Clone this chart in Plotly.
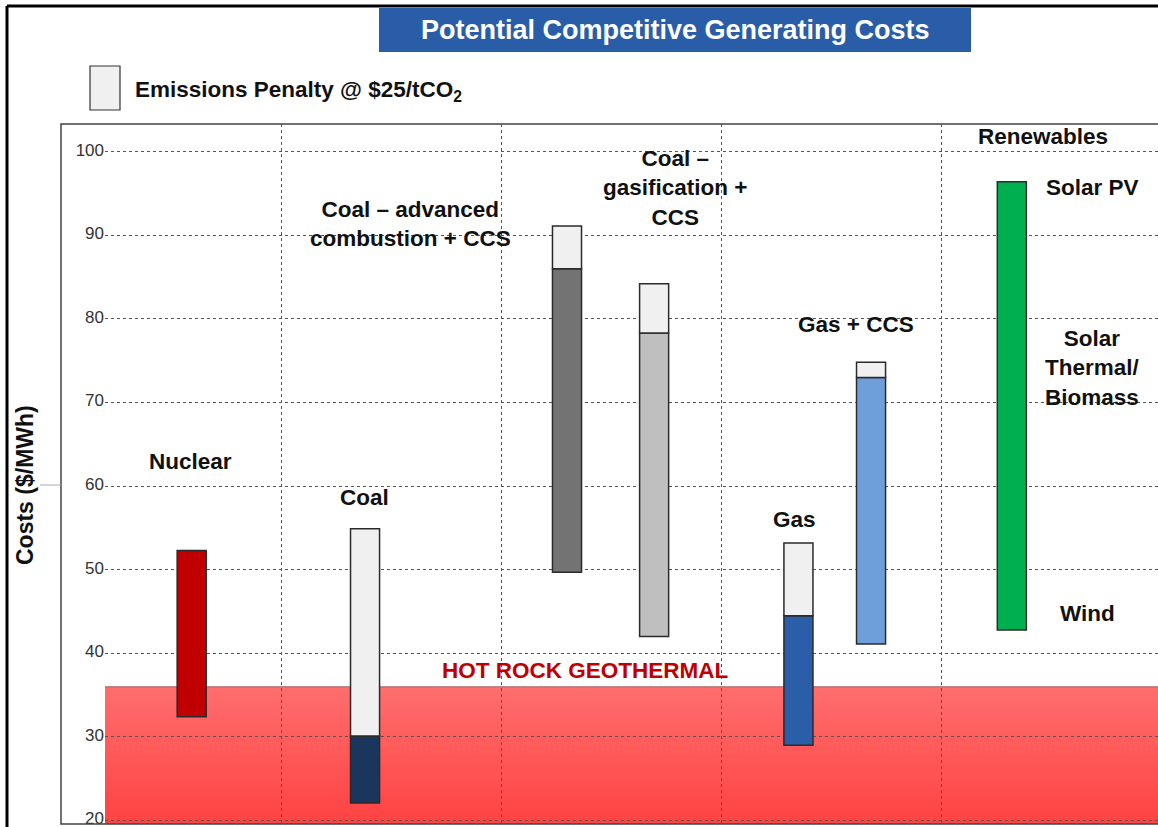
import plotly.graph_objects as go

# ---------------- data ----------------
categories = ["Nuclear", "Coal", "Coal – advanced combustion + CCS",
              "Coal – gasification + CCS", "Gas", "Gas + CCS", "Renewables"]
cost_low = [32.4, 22.1, 49.7, 42.0, 29.0, 41.1, 42.8]
cost_high = [52.3, 30.1, 86.0, 78.3, 44.5, 73.0, 96.4]
cost_with_penalty = [None, 54.9, 91.1, 84.2, 53.2, 74.8, None]
geothermal_max = 36.0
y_ticks = [20, 30, 40, 50, 60, 70, 80, 90, 100]

# ---------------- layout / style ----------------
W, H = 1158, 827
ML, MR, MT, MB = 105, 0, 124, 3
PX_PER_UNIT = 44.0
x_max = (W - ML - MR) / PX_PER_UNIT
y_range = [19.58, 103.31]
x_grid = [0, 4, 9, 14, 19]
bar_pos = [1.97, 5.91, 10.5, 12.48, 15.76, 17.41, 20.61]
bar_width = 0.66
bar_colors = ["#c00000", "#1b365d", "#737373", "#bfbfbf", "#2a5ea8", "#6f9fdb", "#00b050"]
penalty_color = "#f0f0f0"
outline = "#2b2b2b"
FONT = "Liberation Sans, Arial, sans-serif"
LBL = 22.5

pw = W - ML - MR
ph = H - MT - MB


def px_x(p):
    return (p - ML) / pw


def px_y(p):
    return (H - MB - p) / ph


fig = go.Figure()

# base cost bars
fig.add_trace(go.Bar(
    x=bar_pos, y=[h - l for h, l in zip(cost_high, cost_low)], base=cost_low,
    width=bar_width, marker=dict(color=bar_colors, line=dict(color=outline, width=1.5)),
    customdata=categories, hovertemplate="%{customdata}<extra></extra>", showlegend=False))

# emissions penalty
pen_x, pen_y, pen_base = [], [], []
for xp, hi, pen in zip(bar_pos, cost_high, cost_with_penalty):
    if pen is not None:
        pen_x.append(xp)
        pen_y.append(pen - hi)
        pen_base.append(hi)
fig.add_trace(go.Bar(
    x=pen_x, y=pen_y, base=pen_base, width=bar_width,
    marker=dict(color=penalty_color, line=dict(color=outline, width=1.5)),
    name="Emissions Penalty @ $25/tCO2", showlegend=False))

shapes = []
# geothermal band with vertical gradient (overlapping rects), below gridlines
n = 40
top_c = (255, 110, 110)
bot_c = (255, 66, 66)
band_h = geothermal_max - y_range[0]
for k in range(n):
    frac_top = (n - k) / n
    t = (n - k - 0.5) / n
    c = tuple(int(round(bot_c[j] + (top_c[j] - bot_c[j]) * t)) for j in range(3))
    shapes.append(dict(type="rect", xref="x", yref="y", x0=0, x1=x_max,
                       y0=y_range[0] - 1, y1=y_range[0] + band_h * frac_top,
                       fillcolor="rgb(%d,%d,%d)" % c, line=dict(width=0), layer="below"))
shapes.append(dict(type="line", xref="x", yref="y", x0=0, x1=x_max, y0=geothermal_max,
                   y1=geothermal_max, line=dict(color="rgba(140,70,70,0.7)", width=1), layer="below"))

# plot frame (extends left of the axis)
shapes.append(dict(type="rect", xref="paper", yref="paper", x0=px_x(61), x1=1.02, y0=0, y1=1,
                   line=dict(color="#444", width=1.5), fillcolor="rgba(0,0,0,0)", layer="above"))
# outer black border (top and left)
shapes.append(dict(type="line", xref="paper", yref="paper", x0=px_x(7), x1=1.02,
                   y0=px_y(6), y1=px_y(6), line=dict(color="#000", width=3)))
shapes.append(dict(type="line", xref="paper", yref="paper", x0=px_x(7), x1=px_x(7),
                   y0=px_y(6), y1=-0.02, line=dict(color="#000", width=3)))
# small grey tick near axis title
shapes.append(dict(type="line", xref="paper", yref="paper", x0=px_x(40), x1=px_x(61),
                   y0=px_y(485), y1=px_y(485), line=dict(color="#aaa", width=1)))
# title box
shapes.append(dict(type="rect", xref="paper", yref="paper", x0=px_x(379), x1=px_x(971),
                   y0=px_y(52), y1=px_y(8), fillcolor="#2a5da8", line=dict(width=0)))
# legend box
shapes.append(dict(type="rect", xref="paper", yref="paper", x0=px_x(90), x1=px_x(120),
                   y0=px_y(110), y1=px_y(66), fillcolor=penalty_color,
                   line=dict(color="#333", width=1.2)))

ann = []


def label(text, x, y, size=LBL, color="#111", xref="x", yref="y", xanchor="center", **kw):
    ann.append(dict(text=text, x=x, y=y, xref=xref, yref=yref, showarrow=False,
                    xanchor=xanchor, yanchor="middle",
                    font=dict(family=FONT, size=size, color=color), **kw))


label("<b>Potential Competitive Generating Costs</b>", px_x(675), px_y(30), size=27,
      color="#ffffff", xref="paper", yref="paper")
label("<b>Emissions Penalty @ $25/tCO<sub>2</sub></b>", px_x(133), px_y(91), size=LBL,
      xref="paper", yref="paper", xanchor="left")
label("<b>Costs ($/MWh)</b>", px_x(25), px_y(485), size=23, xref="paper", yref="paper",
      textangle=-90)

label("<b>Nuclear</b>", 1.95, 62.9)
label("<b>Coal</b>", 5.89, 58.6)
label("<b>Coal – advanced<br>combustion + CCS</b>", 6.95, 91.3)
label("<b>Coal –<br>gasification +<br>CCS</b>", 12.95, 95.66)
label("<b>Gas + CCS</b>", 17.07, 79.3)
label("<b>Gas</b>", 15.66, 56.0)
label("<b>Renewables</b>", 21.32, 101.76)
label("<b>Solar PV</b>", 22.45, 95.66)
label("<b>Solar<br>Thermal/<br>Biomass</b>", 22.45, 74.1)
label("<b>Wind</b>", 22.32, 44.8)
label("<b>HOT ROCK GEOTHERMAL</b>", 10.9, 37.9, color="#c00000")

fig.update_layout(
    width=W, height=H, margin=dict(l=ML, r=MR, t=MT, b=MB, autoexpand=False),
    paper_bgcolor="white", plot_bgcolor="white",
    barmode="overlay", shapes=shapes, annotations=ann,
    xaxis=dict(range=[0, x_max], tickvals=x_grid, showticklabels=False, showgrid=True,
               gridcolor="#555", griddash="dot", gridwidth=1, zeroline=False, showline=False,
               automargin=False, fixedrange=True),
    yaxis=dict(range=y_range, tickvals=y_ticks, showgrid=True, gridcolor="#555",
               griddash="dot", gridwidth=1, zeroline=False, showline=False, ticks="",
               ticklabeloverflow="allow", automargin=False, ticklabelshift=-2,
               tickfont=dict(family=FONT, size=17, color="#333"), fixedrange=True),
    font=dict(family=FONT),
)

fig.write_html("out.html")
